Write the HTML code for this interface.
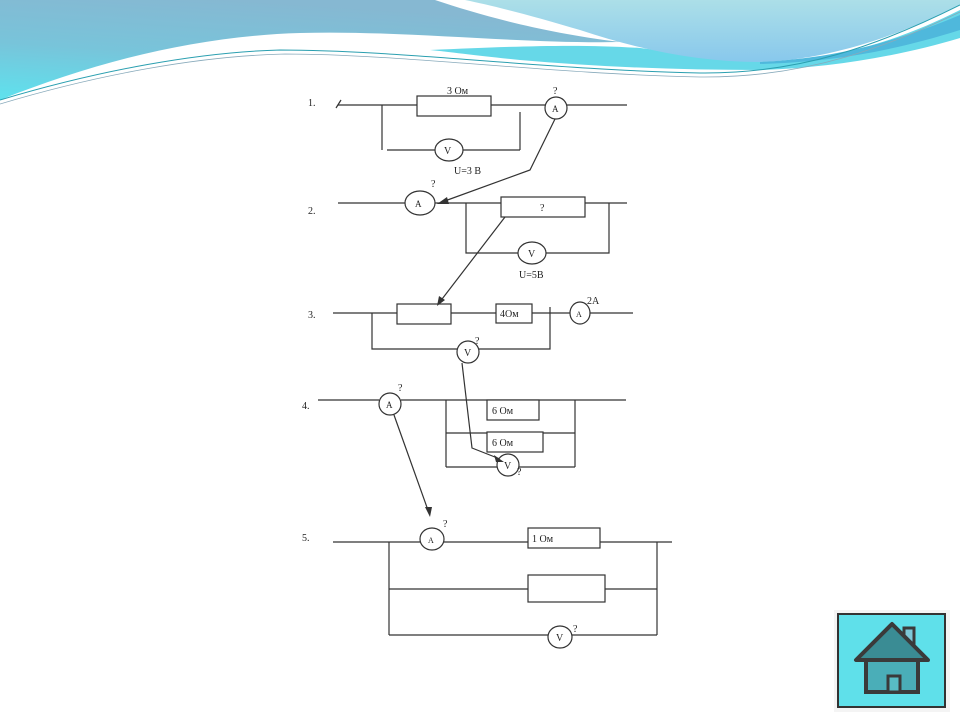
<!DOCTYPE html>
<html><head><meta charset="utf-8"><style>
html,body{margin:0;padding:0;background:#fff;width:960px;height:720px;overflow:hidden}
svg{display:block}
text{font-family:"Liberation Serif",serif;fill:#222}
</style></head><body>
<svg width="960" height="720" viewBox="0 0 960 720">
<defs>
<linearGradient id="gl" x1="0.4" y1="0" x2="0" y2="1"><stop offset="0" stop-color="#86b8d2"/><stop offset="0.5" stop-color="#78c4da"/><stop offset="1" stop-color="#5ee2ee"/></linearGradient>
<linearGradient id="gr" x1="0" y1="0" x2="0" y2="1"><stop offset="0" stop-color="#acdfe8"/><stop offset="1" stop-color="#88c8ec"/></linearGradient>
</defs>
<!-- left blue -->
<path d="M0,0 H435 C480,15 540,32 620,42 C520,44 400,30 300,33 C200,36 100,60 0,100 Z" fill="url(#gl)"/>
<!-- cyan lower band -->
<path d="M430,50 C520,46 580,44 640,48 C700,55 740,60 770,62 C850,58 910,35 960,10 L960,38 C900,56 830,68 760,70 C680,70 600,67 520,60 C480,56 450,52 430,50 Z" fill="#66d8e8"/>
<!-- right light blue -->
<path d="M465,0 H960 V5 C900,35 830,60 760,62 C700,62 640,50 580,30 C530,15 490,5 465,0 Z" fill="url(#gr)"/>
<path d="M760,62 C840,58 900,40 960,15 L960,30 C890,52 830,62 760,64 Z" fill="#4fb8dc"/>
<!-- thin lines -->
<path d="M0,100 C100,70 200,52 280,50 C400,50 550,70 700,73 C800,74 880,45 960,5" fill="none" stroke="#2a9fb0" stroke-width="1"/>
<path d="M0,104 C100,74 200,56 285,54 C400,54 550,74 700,77 C810,78 890,45 960,12" fill="none" stroke="#8ab" stroke-width="0.8"/>

<g stroke="#333" stroke-width="1.2" fill="none">
<!-- circuit 1 -->
<line x1="338" y1="105" x2="417" y2="105"/><line x1="336" y1="108" x2="341" y2="100"/>
<rect x="417" y="96" width="74" height="20" fill="#fff"/>
<line x1="491" y1="105" x2="545" y2="105"/><line x1="567" y1="105" x2="627" y2="105"/>
<ellipse cx="556" cy="108" rx="11" ry="11" fill="#fff"/>
<line x1="382" y1="105" x2="382" y2="150"/>
<line x1="520" y1="112" x2="520" y2="150"/>
<line x1="387" y1="150" x2="435" y2="150"/><line x1="463" y1="150" x2="520" y2="150"/>
<ellipse cx="449" cy="150" rx="14" ry="11" fill="#fff"/>
<polyline points="555,119 530,170 442,202"/>
<!-- circuit 2 -->
<line x1="338" y1="203" x2="405" y2="203"/><line x1="435" y1="203" x2="627" y2="203"/>
<ellipse cx="420" cy="203" rx="15" ry="12" fill="#fff"/>
<rect x="501" y="197" width="84" height="20" fill="#fff"/>
<polyline points="466,203 466,253 518,253"/><polyline points="546,253 609,253 609,203"/>
<ellipse cx="532" cy="253" rx="14" ry="11" fill="#fff"/>
<line x1="505" y1="217" x2="439" y2="303"/>
<!-- circuit 3 -->
<line x1="333" y1="313" x2="397" y2="313"/>
<rect x="397" y="304" width="54" height="20" fill="#fff"/>
<line x1="451" y1="313" x2="496" y2="313"/>
<rect x="496" y="304" width="36" height="19" fill="#fff"/>
<line x1="532" y1="313" x2="570" y2="313"/><line x1="590" y1="313" x2="633" y2="313"/>
<ellipse cx="580" cy="313" rx="10" ry="11" fill="#fff"/>
<polyline points="372,313 372,349 457,349"/><polyline points="479,349 550,349 550,307"/>
<ellipse cx="468" cy="352" rx="11" ry="11" fill="#fff"/>
<polyline points="462,363 472,448 500,459"/>
<!-- circuit 4 -->
<line x1="318" y1="400" x2="379" y2="400"/><line x1="401" y1="400" x2="626" y2="400"/>
<ellipse cx="390" cy="404" rx="11" ry="11" fill="#fff"/>
<line x1="446" y1="400" x2="446" y2="467"/><line x1="575" y1="400" x2="575" y2="467"/>
<rect x="487" y="400" width="52" height="20" fill="#fff"/>
<line x1="446" y1="433" x2="575" y2="433"/>
<rect x="487" y="432" width="56" height="20" fill="#fff"/>
<line x1="446" y1="467" x2="575" y2="467"/>
<ellipse cx="508" cy="465" rx="11" ry="11" fill="#fff"/>
<line x1="394" y1="415" x2="429" y2="513"/>
<!-- circuit 5 -->
<line x1="333" y1="542" x2="420" y2="542"/><line x1="444" y1="542" x2="528" y2="542"/>
<ellipse cx="432" cy="539" rx="12" ry="11" fill="#fff"/>
<rect x="528" y="528" width="72" height="20" fill="#fff"/>
<line x1="600" y1="542" x2="672" y2="542"/>
<line x1="389" y1="542" x2="389" y2="635"/><line x1="657" y1="542" x2="657" y2="635"/>
<line x1="389" y1="589" x2="528" y2="589"/><line x1="605" y1="589" x2="657" y2="589"/>
<rect x="528" y="575" width="77" height="27" fill="#fff"/>
<line x1="389" y1="635" x2="548" y2="635"/><line x1="572" y1="635" x2="657" y2="635"/>
<ellipse cx="560" cy="637" rx="12" ry="11" fill="#fff"/>
</g>
<g fill="#333">
<polygon points="437,204 447,197 449,204"/>
<polygon points="437,306 439,296 445,300"/>
<polygon points="504,462 494,455 496,462"/>
<polygon points="430,517 425,507 432,507"/>
</g>
<g font-size="10">
<text x="308" y="106">1.</text><text x="308" y="214">2.</text><text x="308" y="318">3.</text><text x="302" y="409">4.</text><text x="302" y="541">5.</text>
<text x="447" y="94">3 Ом</text>
<text x="553" y="94">?</text><text x="552" y="112" font-size="9">A</text>
<text x="444" y="154" font-size="10">V</text>
<text x="454" y="174">U=3 В</text>
<text x="431" y="187">?</text><text x="415" y="207" font-size="9">A</text>
<text x="540" y="211">?</text>
<text x="528" y="257">V</text>
<text x="519" y="278">U=5В</text>
<text x="500" y="317">4Ом</text>
<text x="587" y="304">2А</text><text x="576" y="317" font-size="8">A</text>
<text x="475" y="344">?</text><text x="464" y="356">V</text>
<text x="398" y="391">?</text><text x="386" y="408" font-size="9">A</text>
<text x="492" y="414">6 Ом</text><text x="492" y="446">6 Ом</text>
<text x="504" y="469">V</text><text x="517" y="475">?</text>
<text x="443" y="527">?</text><text x="428" y="543" font-size="8">A</text>
<text x="532" y="542">1 Ом</text>
<text x="556" y="641">V</text><text x="573" y="632">?</text>
</g>
<!-- home button -->
<rect x="834" y="610" width="116" height="102" fill="#f4f4f4"/>
<rect x="838" y="614" width="107" height="93" fill="#5fe0ea" stroke="#333" stroke-width="2"/>
<rect x="904" y="628" width="10" height="18" fill="#7ec8d8" stroke="#3a3a3a" stroke-width="3"/>
<polygon points="892,624 856,660 928,660" fill="#3a8c94" stroke="#3a3a3a" stroke-width="4" stroke-linejoin="round"/>
<rect x="866" y="660" width="52" height="32" fill="#4aaeb8" stroke="#3a3a3a" stroke-width="4"/>
<rect x="888" y="676" width="12" height="16" fill="#58bcc4" stroke="#3a3a3a" stroke-width="3"/>
</svg>
</body></html>
